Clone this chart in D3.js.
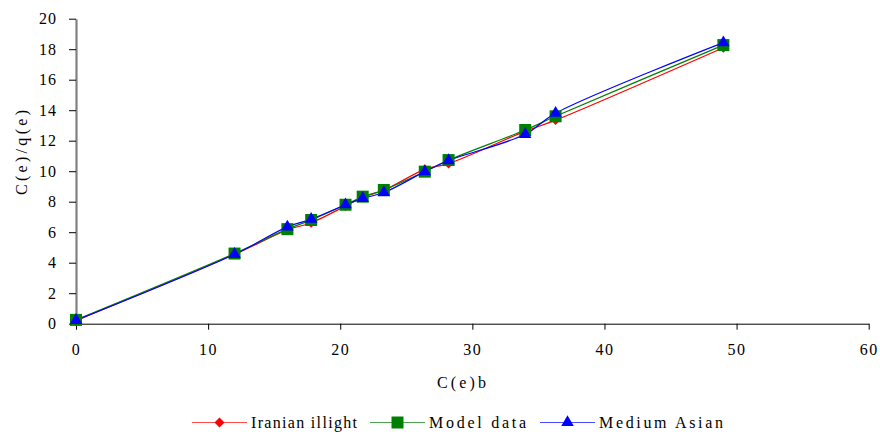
<!DOCTYPE html>
<html>
<head>
<meta charset="utf-8">
<script src="https://cdn.jsdelivr.net/npm/d3@7"></script>
<style>
  body { margin: 0; background: #fff; }
</style>
</head>
<body>
<div id="chart"></div>
<script>
// data
const xValues = [0, 12, 16, 17.8, 20.4, 21.7, 23.3, 26.4, 28.2, 34, 36.3, 49];
const iranianIllight = [0.2, 4.55, 6.15, 6.62, 7.72, 8.3, 8.75, 10.12, 10.5, 12.62, 13.35, 18.1];
const modelData = [0.25, 4.6, 6.2, 6.8, 7.8, 8.33, 8.77, 9.97, 10.73, 12.7, 13.6, 18.27];
const mediumAsian = [0.22, 4.55, 6.35, 6.85, 7.8, 8.22, 8.6, 9.97, 10.7, 12.42, 13.8, 18.43];
const seriesNames = ["Iranian illight", "Model data", "Medium Asian"];
const xTicks = [0, 10, 20, 30, 40, 50, 60];
const yTicks = [0, 2, 4, 6, 8, 10, 12, 14, 16, 18, 20];

const FONT = "'Liberation Serif', 'DejaVu Serif', 'Noto Serif', 'Times New Roman', Times, serif";

const width = 880, height = 432;
const margin = { top: 18.7, right: 11.3, bottom: 108.3, left: 76 };
const plotW = width - margin.left - margin.right;
const plotH = height - margin.top - margin.bottom;

const svg = d3.select("#chart").append("svg")
  .attr("width", width)
  .attr("height", height)
  .style("font-family", FONT);

const g = svg.append("g")
  .attr("transform", "translate(" + margin.left + "," + margin.top + ")");

const x = d3.scaleLinear().domain([0, 60]).range([0, plotW]);
const y = d3.scaleLinear().domain([0, 20]).range([plotH, 0]);

// x axis
const xAxis = g.append("g")
  .attr("transform", "translate(0," + plotH + ")")
  .call(d3.axisBottom(x).tickValues(xTicks).tickSize(6).tickPadding(14).tickSizeOuter(0));
xAxis.attr("font-family", FONT).attr("font-size", 16);
xAxis.select(".domain").attr("stroke", "#000");
xAxis.selectAll("line").attr("stroke", "#000");
xAxis.selectAll("text")
  .style("font-family", FONT)
  .style("font-size", "16px")
  .style("letter-spacing", "1.5px")
  .attr("fill", "#000");

// y axis
const yAxis = g.append("g")
  .call(d3.axisLeft(y).tickValues(yTicks).tickSize(7).tickPadding(12).tickSizeOuter(0));
yAxis.attr("font-family", FONT).attr("font-size", 16);
yAxis.select(".domain").attr("stroke", "#808080").attr("stroke-width", 2.2);
yAxis.selectAll("line").attr("stroke", "#000");
yAxis.selectAll("text")
  .style("font-family", FONT)
  .style("font-size", "16px")
  .style("letter-spacing", "1px")
  .attr("fill", "#000");

// axis titles
svg.append("text")
  .attr("x", 437)
  .attr("y", 388)
  .attr("textLength", 49)
  .attr("lengthAdjust", "spacing")
  .style("font-family", FONT)
  .style("font-size", "16px")
  .text("C(e)b");

svg.append("text")
  .attr("transform", "translate(27,195) rotate(-90)")
  .attr("textLength", 85)
  .attr("lengthAdjust", "spacing")
  .style("font-family", FONT)
  .style("font-size", "16px")
  .text("C(e)/q(e)");

const diamond = d3.symbol().type(d3.symbolSquare).size(50);
const series = [
  { name: seriesNames[0], values: iranianIllight, color: "#ff0000", marker: diamond, rotate: 45 },
  { name: seriesNames[1], values: modelData, color: "#008000", marker: d3.symbol().type(d3.symbolSquare).size(144), rotate: 0 },
  { name: seriesNames[2], values: mediumAsian, color: "#0000ff", marker: d3.symbol().type(d3.symbolTriangle).size(68), rotate: 0 }
];

const line = d3.line()
  .x(d => x(d[0]))
  .y(d => y(d[1]))
  .curve(d3.curveCatmullRom.alpha(0.5));

series.forEach(s => {
  const pts = xValues.map((xv, i) => [xv, s.values[i]]);
  g.append("path")
    .datum(pts)
    .attr("fill", "none")
    .attr("stroke", s.color)
    .attr("stroke-width", 1.2)
    .attr("d", line);
});

series.forEach(s => {
  const pts = xValues.map((xv, i) => [xv, s.values[i]]);
  g.selectAll(null)
    .data(pts)
    .enter()
    .append("path")
    .attr("transform", d => "translate(" + x(d[0]) + "," + y(d[1]) + ") rotate(" + s.rotate + ")")
    .attr("d", s.marker)
    .attr("fill", s.color);
});

// legend
const legendX = [192, 370, 540];
const legendTextW = [106, 97, 124];
const legend = svg.append("g").attr("transform", "translate(0,422.5)");
series.forEach((s, i) => {
  const item = legend.append("g").attr("transform", "translate(" + legendX[i] + ",0)");
  item.append("line")
    .attr("x1", 0).attr("x2", 55)
    .attr("y1", 0).attr("y2", 0)
    .attr("stroke", s.color)
    .attr("stroke-opacity", 0.7)
    .attr("stroke-width", 1.2);
  item.append("path")
    .attr("transform", "translate(27.5,0) rotate(" + s.rotate + ")")
    .attr("d", s.marker)
    .attr("fill", s.color);
  item.append("text")
    .attr("x", 59)
    .attr("y", 5.5)
    .attr("textLength", legendTextW[i])
    .attr("lengthAdjust", "spacing")
    .style("font-family", FONT)
    .style("font-size", "16px")
    .text(s.name);
});
</script>
</body>
</html>
